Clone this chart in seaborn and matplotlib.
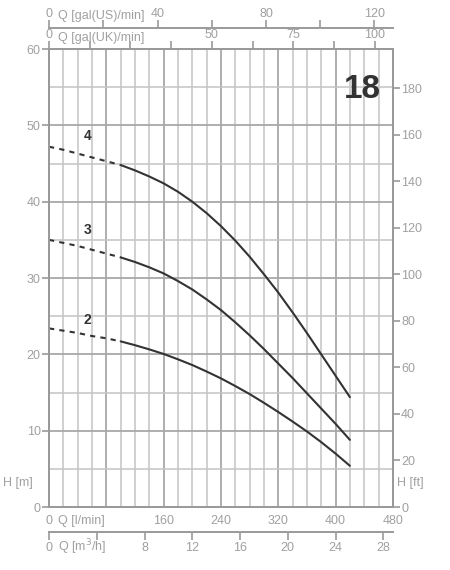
import numpy as np
import pandas as pd
import matplotlib
matplotlib.use("Agg")
import matplotlib.pyplot as plt
import seaborn as sns
from matplotlib.ticker import FixedLocator, FixedFormatter, MultipleLocator

# pump curves, Q in l/min, H in m
q = [0, 20, 40, 60, 80, 100, 120, 140, 160, 180, 200, 220, 240, 260, 280, 300, 320, 340, 360, 380, 400, 420]
h_4 = [47.2, 46.8, 46.3, 45.8, 45.3, 44.8, 44.1, 43.3, 42.4, 41.3, 40.0, 38.5, 36.8, 34.9, 32.8, 30.5, 28.1, 25.5, 22.8, 20.0, 17.2, 14.4]
h_3 = [35.0, 34.6, 34.2, 33.7, 33.2, 32.7, 32.1, 31.4, 30.6, 29.6, 28.5, 27.2, 25.8, 24.2, 22.5, 20.7, 18.8, 16.9, 14.9, 12.9, 10.9, 8.8]
h_2 = [23.4, 23.1, 22.8, 22.4, 22.1, 21.7, 21.2, 20.65, 20.05, 19.35, 18.6, 17.75, 16.85, 15.85, 14.8, 13.65, 12.45, 11.2, 9.9, 8.5, 7.0, 5.4]
curve_names = ["4", "3", "2"]
dash_until = 100  # dashed below this flow

lpm_ticks = [0, 80, 160, 240, 320, 400, 480]
lpm_labels = ["0", "", "160", "240", "320", "400", "480"]
m3h_ticks = [0, 4, 8, 12, 16, 20, 24, 28]
m3h_labels = ["0", "", "8", "12", "16", "20", "24", "28"]
uk_ticks = [0, 12.5, 25, 37.5, 50, 62.5, 75, 87.5, 100]
uk_labels = ["0", "", "", "", "50", "", "75", "", "100"]
us_ticks = [0, 20, 40, 60, 80, 100, 120]
us_labels = ["0", "", "40", "", "80", "", "120"]
ft_ticks = [0, 20, 40, 60, 80, 100, 120, 140, 160, 180]

df = pd.concat([pd.DataFrame({"q": q, "h": h, "curve": n}) for n, h in zip(curve_names, [h_4, h_3, h_2])])

sns.set_style("white")
plt.rcParams["font.family"] = ["Liberation Sans", "DejaVu Sans"]

grey = "#9a9a9a"
txt = "#a0a0a0"
fig = plt.figure(figsize=(4.5, 5.7), dpi=100)
ax = fig.add_axes([0.109, 0.1105, 0.764, 0.8035])

for n in curve_names:
    d = df[df.curve == n]
    sns.lineplot(data=d[d.q <= dash_until], x="q", y="h", ax=ax, color="#333333", lw=1.5,
                 linestyle=(0, (2.5, 2.5)), estimator=None)
    sns.lineplot(data=d[d.q >= dash_until], x="q", y="h", ax=ax, color="#333333", lw=1.5,
                 estimator=None)

ax.set_xlim(0, 480)
ax.set_ylim(0, 60)
ax.set_xlabel("")
ax.set_ylabel("")

# grid
ax.xaxis.set_minor_locator(MultipleLocator(20))
ax.yaxis.set_minor_locator(MultipleLocator(5))
ax.grid(which="minor", color="#c4c4c4", lw=1.1)
ax.grid(which="major", color="#a8a8a8", lw=1.3)
ax.set_axisbelow(True)

for s in ax.spines.values():
    s.set_color(grey)
    s.set_linewidth(1.4)

ax.xaxis.set_major_locator(FixedLocator(lpm_ticks))
ax.xaxis.set_major_formatter(FixedFormatter(lpm_labels))
ax.yaxis.set_major_locator(MultipleLocator(10))
ax.tick_params(which="major", direction="out", length=5, width=1.2, color=grey, labelcolor=txt, labelsize=9, pad=1)
ax.tick_params(which="minor", length=0)

# right axis in ft
axr = ax.twinx()
axr.set_ylim(0, 60 * 3.28084)
axr.yaxis.set_major_locator(FixedLocator(ft_ticks))
axr.tick_params(direction="out", length=5, width=1.2, color=grey, labelcolor=txt, labelsize=9, pad=1)
for s in axr.spines.values():
    s.set_color(grey)
    s.set_linewidth(1.4)

# top: gal(UK)/min
uk = ax.secondary_xaxis("top", functions=(lambda x: x / 4.54609, lambda x: x * 4.54609))
uk.xaxis.set_major_locator(FixedLocator(uk_ticks))
uk.xaxis.set_major_formatter(FixedFormatter(uk_labels))
uk.tick_params(direction="out", length=6, width=1.2, color=grey, labelcolor=txt, labelsize=9, pad=0)
uk.spines["top"].set_color(grey)
uk.spines["top"].set_linewidth(1.4)

# top: gal(US)/min
us = ax.secondary_xaxis(1.046, functions=(lambda x: x / 3.78541, lambda x: x * 3.78541))
us.xaxis.set_major_locator(FixedLocator(us_ticks))
us.xaxis.set_major_formatter(FixedFormatter(us_labels))
us.tick_params(direction="out", length=6, width=1.2, color=grey, labelcolor=txt, labelsize=9, pad=0)
us.spines["top"].set_color(grey)
us.spines["top"].set_linewidth(1.4)

# bottom: m3/h
m3 = ax.secondary_xaxis(-0.055, functions=(lambda x: x * 0.06, lambda x: x / 0.06))
m3.xaxis.set_major_locator(FixedLocator(m3h_ticks))
m3.xaxis.set_major_formatter(FixedFormatter(m3h_labels))
m3.tick_params(direction="out", length=6, width=1.2, color=grey, labelcolor=txt, labelsize=9, pad=1)
m3.spines["bottom"].set_color(grey)
m3.spines["bottom"].set_linewidth(1.4)

# axis titles
xt = ("data", "axes fraction")
ax.annotate("Q [gal(US)/min]", (12, 1.072), xycoords=xt, color=txt, fontsize=9, va="center", ha="left")
ax.annotate("Q [gal(UK)/min]", (12, 1.024), xycoords=xt, color=txt, fontsize=9, va="center", ha="left")
ax.annotate("Q [l/min]", (12, -0.03), xycoords=xt, color=txt, fontsize=9, va="center", ha="left")
ax.annotate("Q [m$^3$/h]", (12, -0.088), xycoords=xt, color=txt, fontsize=9, va="center", ha="left")
fig.text(18 / 450, 1 - 483 / 570, "H [m]", color=txt, fontsize=9, ha="center", va="center")
fig.text(410 / 450, 1 - 483 / 570, "H [ft]", color=txt, fontsize=9, ha="center", va="center")

# curve labels and model number
for n, yy in zip(curve_names, [48.6, 36.3, 24.5]):
    ax.text(54, yy, n, color="#333333", fontsize=10, fontweight="bold", ha="center", va="center")
ax.text(438, 54.7, "18", color="#333333", fontsize=24, fontweight="bold", ha="center", va="center")

fig.savefig("out.png", dpi=100)
